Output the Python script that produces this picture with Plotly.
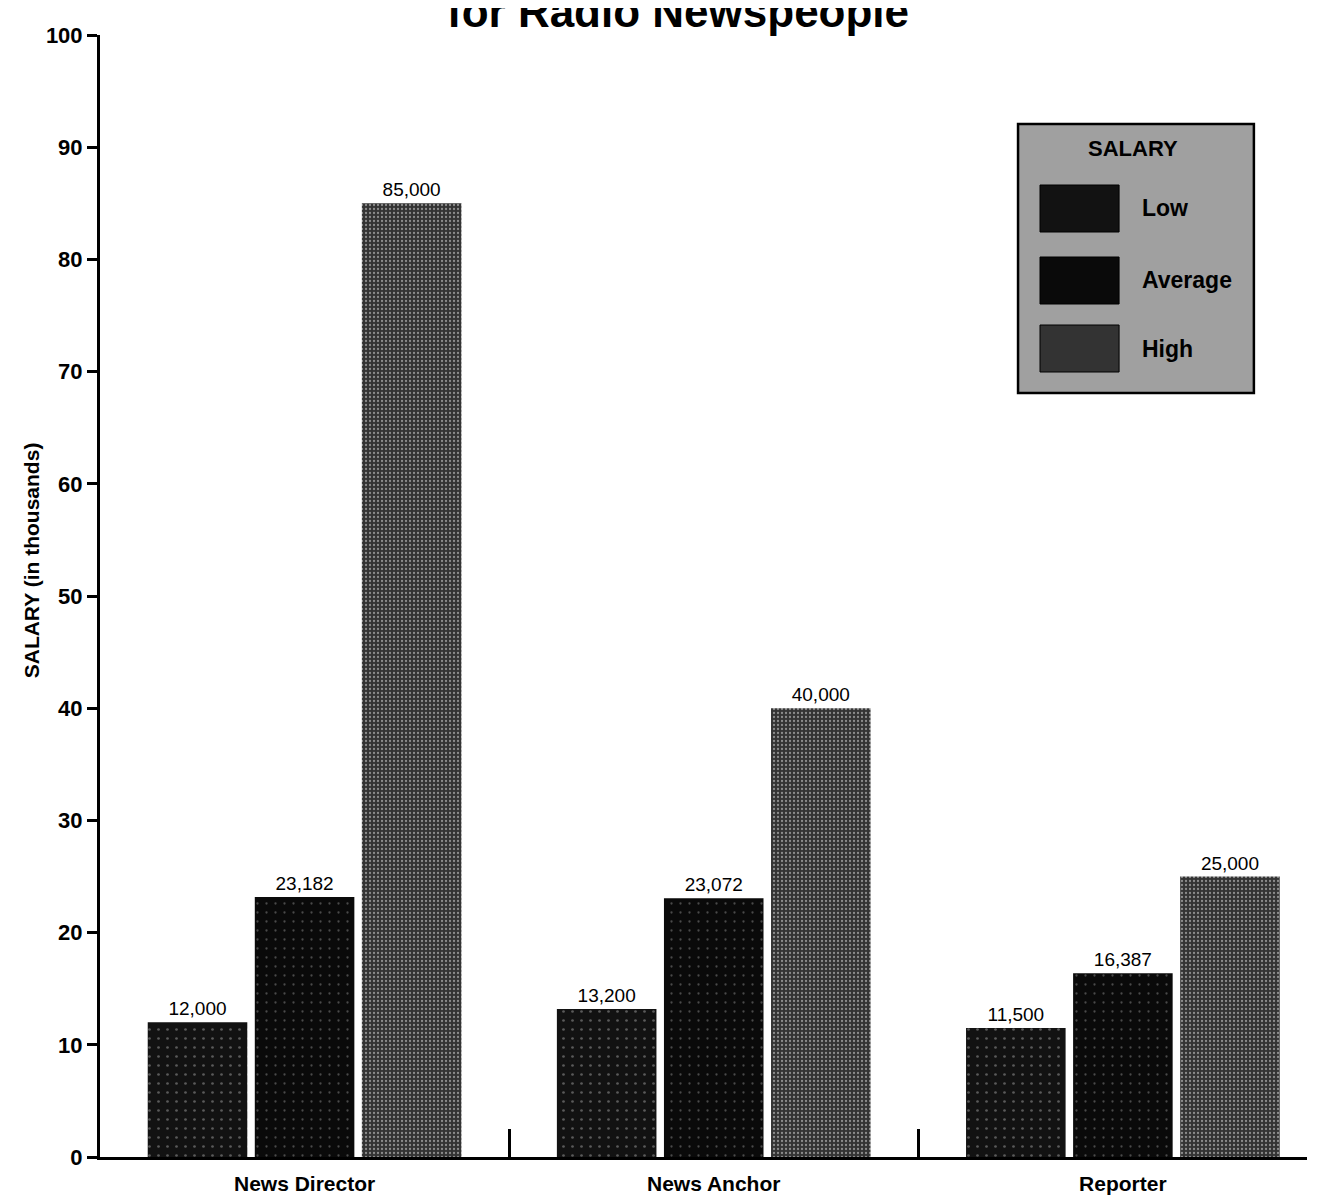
import plotly.graph_objects as go

categories = ["News Director", "News Anchor", "Reporter"]
series_names = ["Low", "Average", "High"]
low = [12000, 13200, 11500]
average = [23182, 23072, 16387]
high = [85000, 40000, 25000]
series_values = [low, average, high]
y_ticks = [0, 10, 20, 30, 40, 50, 60, 70, 80, 90, 100]

colors = ["#121212", "#0a0a0a", "#333333"]
dot_colors = ["#5a5a5a", "#4a4a4a", "#8c8c8c"]
dot_sizes = [9, 9, 4]
dot_solidity = [0.07, 0.05, 0.25]
FONT = "Liberation Sans, Arial, sans-serif"

fig = go.Figure()
for name, vals, col, dc, ds, dsol in zip(series_names, series_values, colors,
                                         dot_colors, dot_sizes, dot_solidity):
    fig.add_trace(go.Bar(
        x=categories,
        y=[v / 1000 for v in vals],
        name=name,
        marker=dict(color=col, line=dict(width=0),
                    pattern=dict(shape=".", bgcolor=col, fgcolor=dc, size=ds,
                                 solidity=dsol, fillmode="replace")),
        text=[f"{v:,}" for v in vals],
        textposition="outside",
        textfont=dict(family=FONT, size=19, color="black"),
        cliponaxis=False,
        showlegend=False,
    ))

fig.update_layout(
    width=1305, height=1188,
    margin=dict(l=92, r=6, t=27, b=39, autoexpand=False),
    paper_bgcolor="white", plot_bgcolor="white",
    barmode="group", bargap=0.215, bargroupgap=0.07,
    font=dict(family=FONT, color="black"),
    xaxis=dict(
        type="category", automargin=False,
        range=[-0.5, 2.45],
        tickfont=dict(family=FONT, size=21, color="black", weight="bold"),
        showline=True, linecolor="black", linewidth=3,
        showgrid=False, zeroline=False,
        ticks="inside", tickson="boundaries", ticklen=28, tickwidth=2.5, tickcolor="black",
        ticklabelstandoff=6,
    ),
    yaxis=dict(
        automargin=False,
        range=[0, 100],
        tickmode="array", tickvals=y_ticks,
        tickfont=dict(family=FONT, size=22, color="black", weight="bold"),
        showline=True, linecolor="black", linewidth=3,
        showgrid=False, zeroline=False,
        ticks="outside", ticklen=10, tickwidth=2.5, tickcolor="black",
    ),
)

# y-axis title
fig.add_annotation(
    text="SALARY (in thousands)", textangle=-90,
    xref="paper", yref="paper", x=-0.057, y=0.532,
    xanchor="center", yanchor="middle", showarrow=False,
    font=dict(family=FONT, size=21, color="black", weight="bold"),
)

# chart title (top part cut off, as in the reference)
fig.add_annotation(
    text="for Radio Newspeople",
    xref="paper", yref="paper", x=0.479, y=1.021,
    xanchor="center", yanchor="middle", showarrow=False,
    font=dict(family=FONT, size=44, color="black", weight="bold"),
)

# manual legend
lx0, lx1, ly0, ly1 = 0.7606, 0.956, 0.681, 0.9207
fig.add_shape(type="rect", xref="paper", yref="paper", x0=lx0, x1=lx1, y0=ly0, y1=ly1,
              fillcolor="#a0a0a0", line=dict(color="black", width=2.5), layer="above")
fig.add_annotation(text="SALARY", xref="paper", yref="paper", x=0.856, y=0.899,
                   xanchor="center", yanchor="middle", showarrow=False,
                   font=dict(family=FONT, size=22, color="black", weight="bold"))
row_tops = [185, 257, 325]
for name, col, top in zip(series_names, colors, row_tops):
    y_top = (1157 - top) / 1122
    y_bot = (1157 - top - 47) / 1122
    fig.add_shape(type="rect", xref="paper", yref="paper", x0=0.7788, x1=0.8443,
                  y0=y_bot, y1=y_top, fillcolor=col, line=dict(color="black", width=1), layer="above")
    fig.add_annotation(text=name, xref="paper", yref="paper", x=0.8616, y=(y_top + y_bot) / 2,
                       xanchor="left", yanchor="middle", showarrow=False,
                       font=dict(family=FONT, size=23, color="black", weight="bold"))

fig.write_html("out.html")
